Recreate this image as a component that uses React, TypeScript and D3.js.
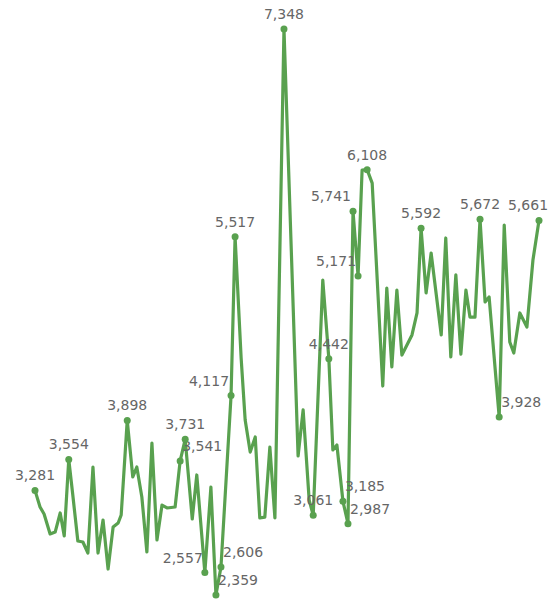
import React, { useMemo } from 'react';
import * as d3 from 'd3';

// x = day index, y = value
const days = [
  0, 1.0, 1.8, 3.0, 4.0, 5.0, 5.8, 6.7, 7.5, 8.5, 9.5, 10.5, 11.5, 12.5, 13.5, 14.5, 15.5, 16.5, 17.1, 18.3,
  19.4, 20.2, 21.2, 22.2, 23.2, 24.2, 25.2, 26.2, 27.8, 28.8, 29.8, 31.2, 32.1, 33.7, 34.9, 35.9, 36.9, 38.9, 39.7,
  40.9, 41.7, 42.7, 43.7, 44.6, 45.6, 46.6, 47.6, 49.4, 52.2, 53.2, 54.4, 55.2, 57.1, 58.3, 59.1, 59.9, 61.1, 62.1,
  63.1, 64.1, 64.9, 65.9, 66.9, 69.0, 69.8, 70.8, 71.8, 72.8, 74.8, 75.8, 76.6, 77.6, 78.6, 80.6, 81.5, 82.5, 83.5,
  84.5, 85.5, 86.3, 87.3, 88.3, 89.3, 90.1, 92.1, 93.1, 94.2, 95.0, 96.2, 97.6, 98.8, 100,
];

const values = [
  3281, 3135, 3073, 2897, 2914, 3082, 2879, 3554, 3240, 2835, 2826, 2729, 3487, 2729, 3020, 2588, 2958, 2994, 3064, 3898,
  3399, 3487, 3223, 2738, 3699, 2844, 3152, 3126, 3135, 3541, 3731, 3029, 3417, 2557, 3311, 2359, 2606, 4117, 5517,
  4448, 3901, 3619, 3752, 3038, 3046, 3663, 3038, 7348, 3584, 3990, 3196, 3061, 5135, 4442, 3637, 3681, 3185, 2987,
  5741, 5171, 6105, 6108, 5990, 4201, 5065, 4369, 5047, 4474, 4651, 4845, 5592, 5021, 5373, 4651, 5506, 4457, 5180,
  4483, 5047, 4809, 4809, 5672, 4942, 4986, 3928, 5620, 4589, 4492, 4845, 4721, 5312, 5661,
];

// indices of the points that carry a value label, and where the label sits
const labelIdx = [0, 7, 19, 29, 30, 33, 35, 36, 37, 38, 47, 51, 53, 56, 57, 58, 59, 61, 70, 81, 84, 91];
const labelPos = [
  'middle', 'middle', 'middle', 'start', 'middle', 'end', 'start', 'start', 'end', 'middle', 'middle', 'middle',
  'middle', 'start', 'start', 'end', 'end', 'middle', 'middle', 'middle', 'start', 'middle',
];

const W = 549;
const H = 603;
const GREEN = '#59a14f';

export default function App() {
  const pts = useMemo(() => days.map((d, i) => ({ d, v: values[i] })), []);

  const x = d3.scaleLinear().domain([0, 100]).range([35, 539]);
  const y = d3.scaleLinear().domain(d3.extent(values) as [number, number]).range([595, 29]);

  const line = d3
    .line<{ d: number; v: number }>()
    .x((p) => x(p.d))
    .y((p) => y(p.v));

  const fmt = d3.format(',');

  return (
    <svg
      width={W}
      height={H}
      style={{ position: 'absolute', left: 0, top: 0, background: '#fff' }}
      fontFamily="'DejaVu Sans', Verdana, sans-serif"
    >
      <path
        d={line(pts) || ''}
        fill="none"
        stroke={GREEN}
        strokeWidth={3.2}
        strokeLinejoin="round"
        strokeLinecap="round"
      />
      {labelIdx.map((i, k) => {
        const cx = x(days[i]);
        const cy = y(values[i]);
        const anchor = labelPos[k];
        let tx = anchor === 'start' ? cx + 2 : anchor === 'end' ? cx - 2 : cx;
        // keep centred labels inside the picture
        if (anchor === 'middle') tx = Math.min(tx, W - 21);
        return (
          <g key={i}>
            <circle cx={cx} cy={cy} r={3.5} fill={GREEN} />
            <text x={tx} y={cy - 10} textAnchor={anchor} fontSize={14} fill="#666">
              {fmt(values[i])}
            </text>
          </g>
        );
      })}
    </svg>
  );
}
